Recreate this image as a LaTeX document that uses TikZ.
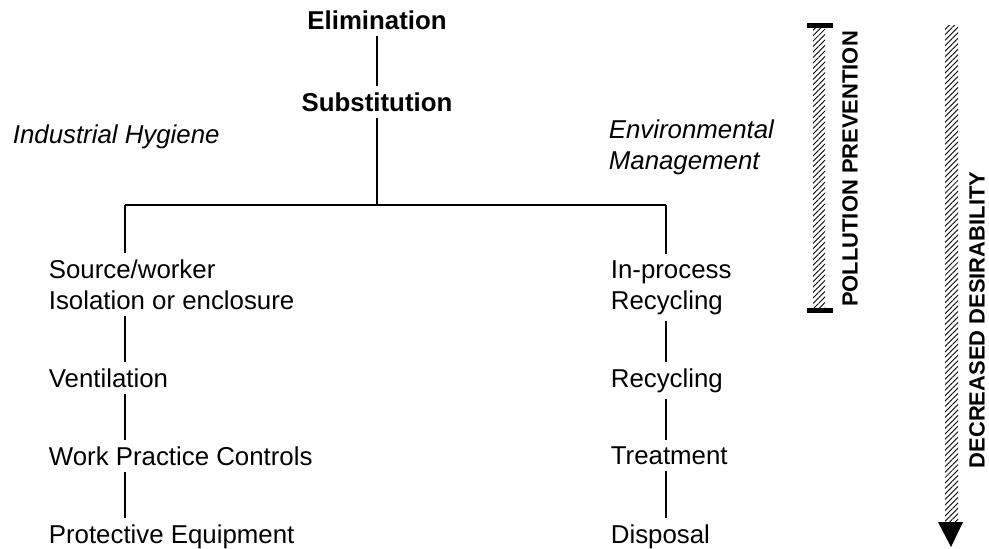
\documentclass[tikz,border=0pt]{standalone}
\usepackage{fontspec}
\setmainfont{Liberation Sans}
\usetikzlibrary{positioning, arrows.meta, calc, patterns.meta}

\begin{document}
\begin{tikzpicture}[x=0.02cm, y=-0.02cm, line width=1pt,
		txt/.style={font=\fontsize{14.7}{17.6}\selectfont, align=left, anchor=base west, inner xsep=0pt},
		head/.style={font=\fontsize{14.7}{17.6}\selectfont\bfseries, anchor=base},
		side/.style={font=\fontsize{14.7}{17.6}\selectfont\itshape, align=left, anchor=base west, inner xsep=0pt},
		vlabel/.style={font=\fontsize{12.5}{15}\selectfont\bfseries, rotate=90, inner sep=0pt},
		hatch/.style={pattern={Lines[angle=45, distance=2.2pt, line width=0.5pt]}}]
	\useasboundingbox (0,0) rectangle (989,548);
	
	% --- Top of the hierarchy ---
	\node[head] (elim) at (377,29) {Elimination};
	\node[head] (subst) at (377,111) {Substitution};
	\draw (elim) -- (subst);
	
	\node[side] (ih) at (12,143) {Industrial Hygiene};
	\node[side] (em) at (608,169) {Environmental\\Management};
	
	% --- Branching ---
	\coordinate (lft) at (125,205);
	\coordinate (rgt) at (666,205);
	\draw (subst) -- (subst |- lft);
	\draw (lft) -- (rgt);
	
	% --- Left column ---
	\node[txt] (src) at (48,309) {Source/worker\\Isolation or enclosure};
	\node[txt] (vent) at (48,387) {Ventilation};
	\node[txt] (wpc) at (48,465) {Work Practice Controls};
	\node[txt] (ppe) at (48,543) {Protective Equipment};
	\draw (lft) -- (lft |- src.north);
	\foreach \a/\b in {src/vent, vent/wpc, wpc/ppe}
		\draw (lft |- \a.south) -- (lft |- \b.north);
	
	% --- Right column ---
	\node[txt] (inproc) at (610,309) {In-process\\Recycling};
	\node[txt] (recyc) at (610,387) {Recycling};
	\node[txt] (treat) at (610,464) {Treatment};
	\node[txt] (disp) at (610,543) {Disposal};
	\draw (rgt) -- (rgt |- inproc.north);
	\foreach \a/\b in {inproc/recyc, recyc/treat, treat/disp}
		\draw (rgt |- \a.south) -- (rgt |- \b.north);
	
	% --- Pollution prevention bar ---
	\fill[hatch] (813,26) rectangle (825,310);
	\fill (807,23) rectangle (833,28);
	\fill (807,308) rectangle (833,313);
	\node[vlabel] (pp) at (850,169) {POLLUTION PREVENTION};
	
	% --- Decreased desirability arrow ---
	\fill[hatch] (945,25) rectangle (958,523);
	\fill (938,522) -- (963,522) -- (951,547) -- cycle;
	\node[vlabel] (dd) at (977,320) {DECREASED DESIRABILITY};
\end{tikzpicture}
\end{document}
